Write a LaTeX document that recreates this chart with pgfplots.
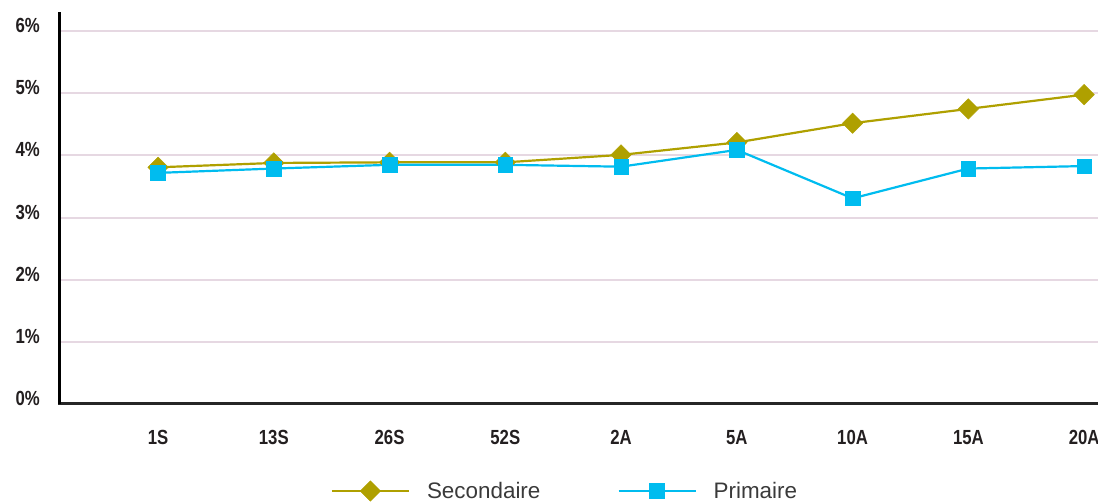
\documentclass[border=0pt]{standalone}
\usepackage{pgfplots}
\pgfplotsset{compat=1.18}
\usepackage{fontspec}
\setmainfont{Liberation Sans}
\newfontfamily\condfont{Liberation Sans}[FakeStretch=0.82]
\definecolor{sec}{HTML}{AFA000}
\definecolor{prim}{HTML}{00BCEF}
\definecolor{gridc}{HTML}{E6D8E2}
\definecolor{legtext}{HTML}{3A3A3A}
\definecolor{labc}{HTML}{231F20}
\begin{document}
\begin{tikzpicture}
\begin{scope}[overlay]
\begin{axis}[
  scale only axis, width=1038bp, height=392bp,
  xmin=0.153, xmax=9.12, ymin=0, ymax=6.31,
  axis x line*=bottom, axis y line*=left,
  x axis line style={line width=3bp, color=black!85, shorten <=-1.5bp},
  y axis line style={line width=3bp, color=black},
  xtick={1,...,9}, xticklabels={1S,13S,26S,52S,2A,5A,10A,15A,20A},
  ytick={0,...,6}, yticklabels={0\%,1\%,2\%,3\%,4\%,5\%,6\%},
  major tick length=0,
  ymajorgrids, grid style={gridc, line width=2bp},
  xticklabel style={font=\condfont\bfseries\fontsize{20.5}{20.5}\selectfont, text=labc, anchor=base, inner sep=0pt, yshift=-41bp},
  yticklabel style={font=\condfont\bfseries\fontsize{20.5}{20.5}\selectfont, text=labc, anchor=base east, inner sep=0pt, xshift=-20bp, yshift=-1.5bp},
  legend columns=2,
  legend style={at={(rel axis cs:0.4855,-0.222)}, anchor=center, draw=none, fill=none,
    font=\fontsize{22.5}{22.5}\selectfont\color{legtext},
    nodes={inner xsep=0pt},
    /tikz/every odd column/.append style={column sep=17bp},
    /tikz/every even column/.append style={column sep=77bp}},
  legend image code/.code={\draw[#1, mark repeat=2, mark phase=2] plot coordinates {(0bp,0bp) (38.5bp,0bp) (77bp,0bp)};},
  clip=false,
]
\addplot[sec, line width=2.2bp, mark=square*, mark size=7.2bp, mark options={solid, fill=sec, draw=sec, line width=0.5bp, rotate=45}] coordinates {
(1,3.81) (2,3.88) (3,3.89) (4,3.89) (5,4.01) (6,4.21) (7,4.52) (8,4.75) (9,4.98)};
\addlegendentry{Secondaire}
\addplot[prim, line width=2.2bp, mark=square*, mark size=7.3bp, mark options={solid, fill=prim, draw=prim, line width=0.5bp}] coordinates {
(1,3.72) (2,3.79) (3,3.85) (4,3.85) (5,3.82) (6,4.09) (7,3.31) (8,3.79) (9,3.83)};
\addlegendentry{Primaire}
\coordinate (sw) at (rel axis cs:0,0);
\coordinate (ne) at (rel axis cs:1,1);
\end{axis}
\end{scope}
\path (sw) ++(-60bp,-98bp) coordinate (bl);
\path (ne) ++(0bp,12bp) coordinate (tr);
\path[use as bounding box] (bl) rectangle (tr);
\end{tikzpicture}
\end{document}
